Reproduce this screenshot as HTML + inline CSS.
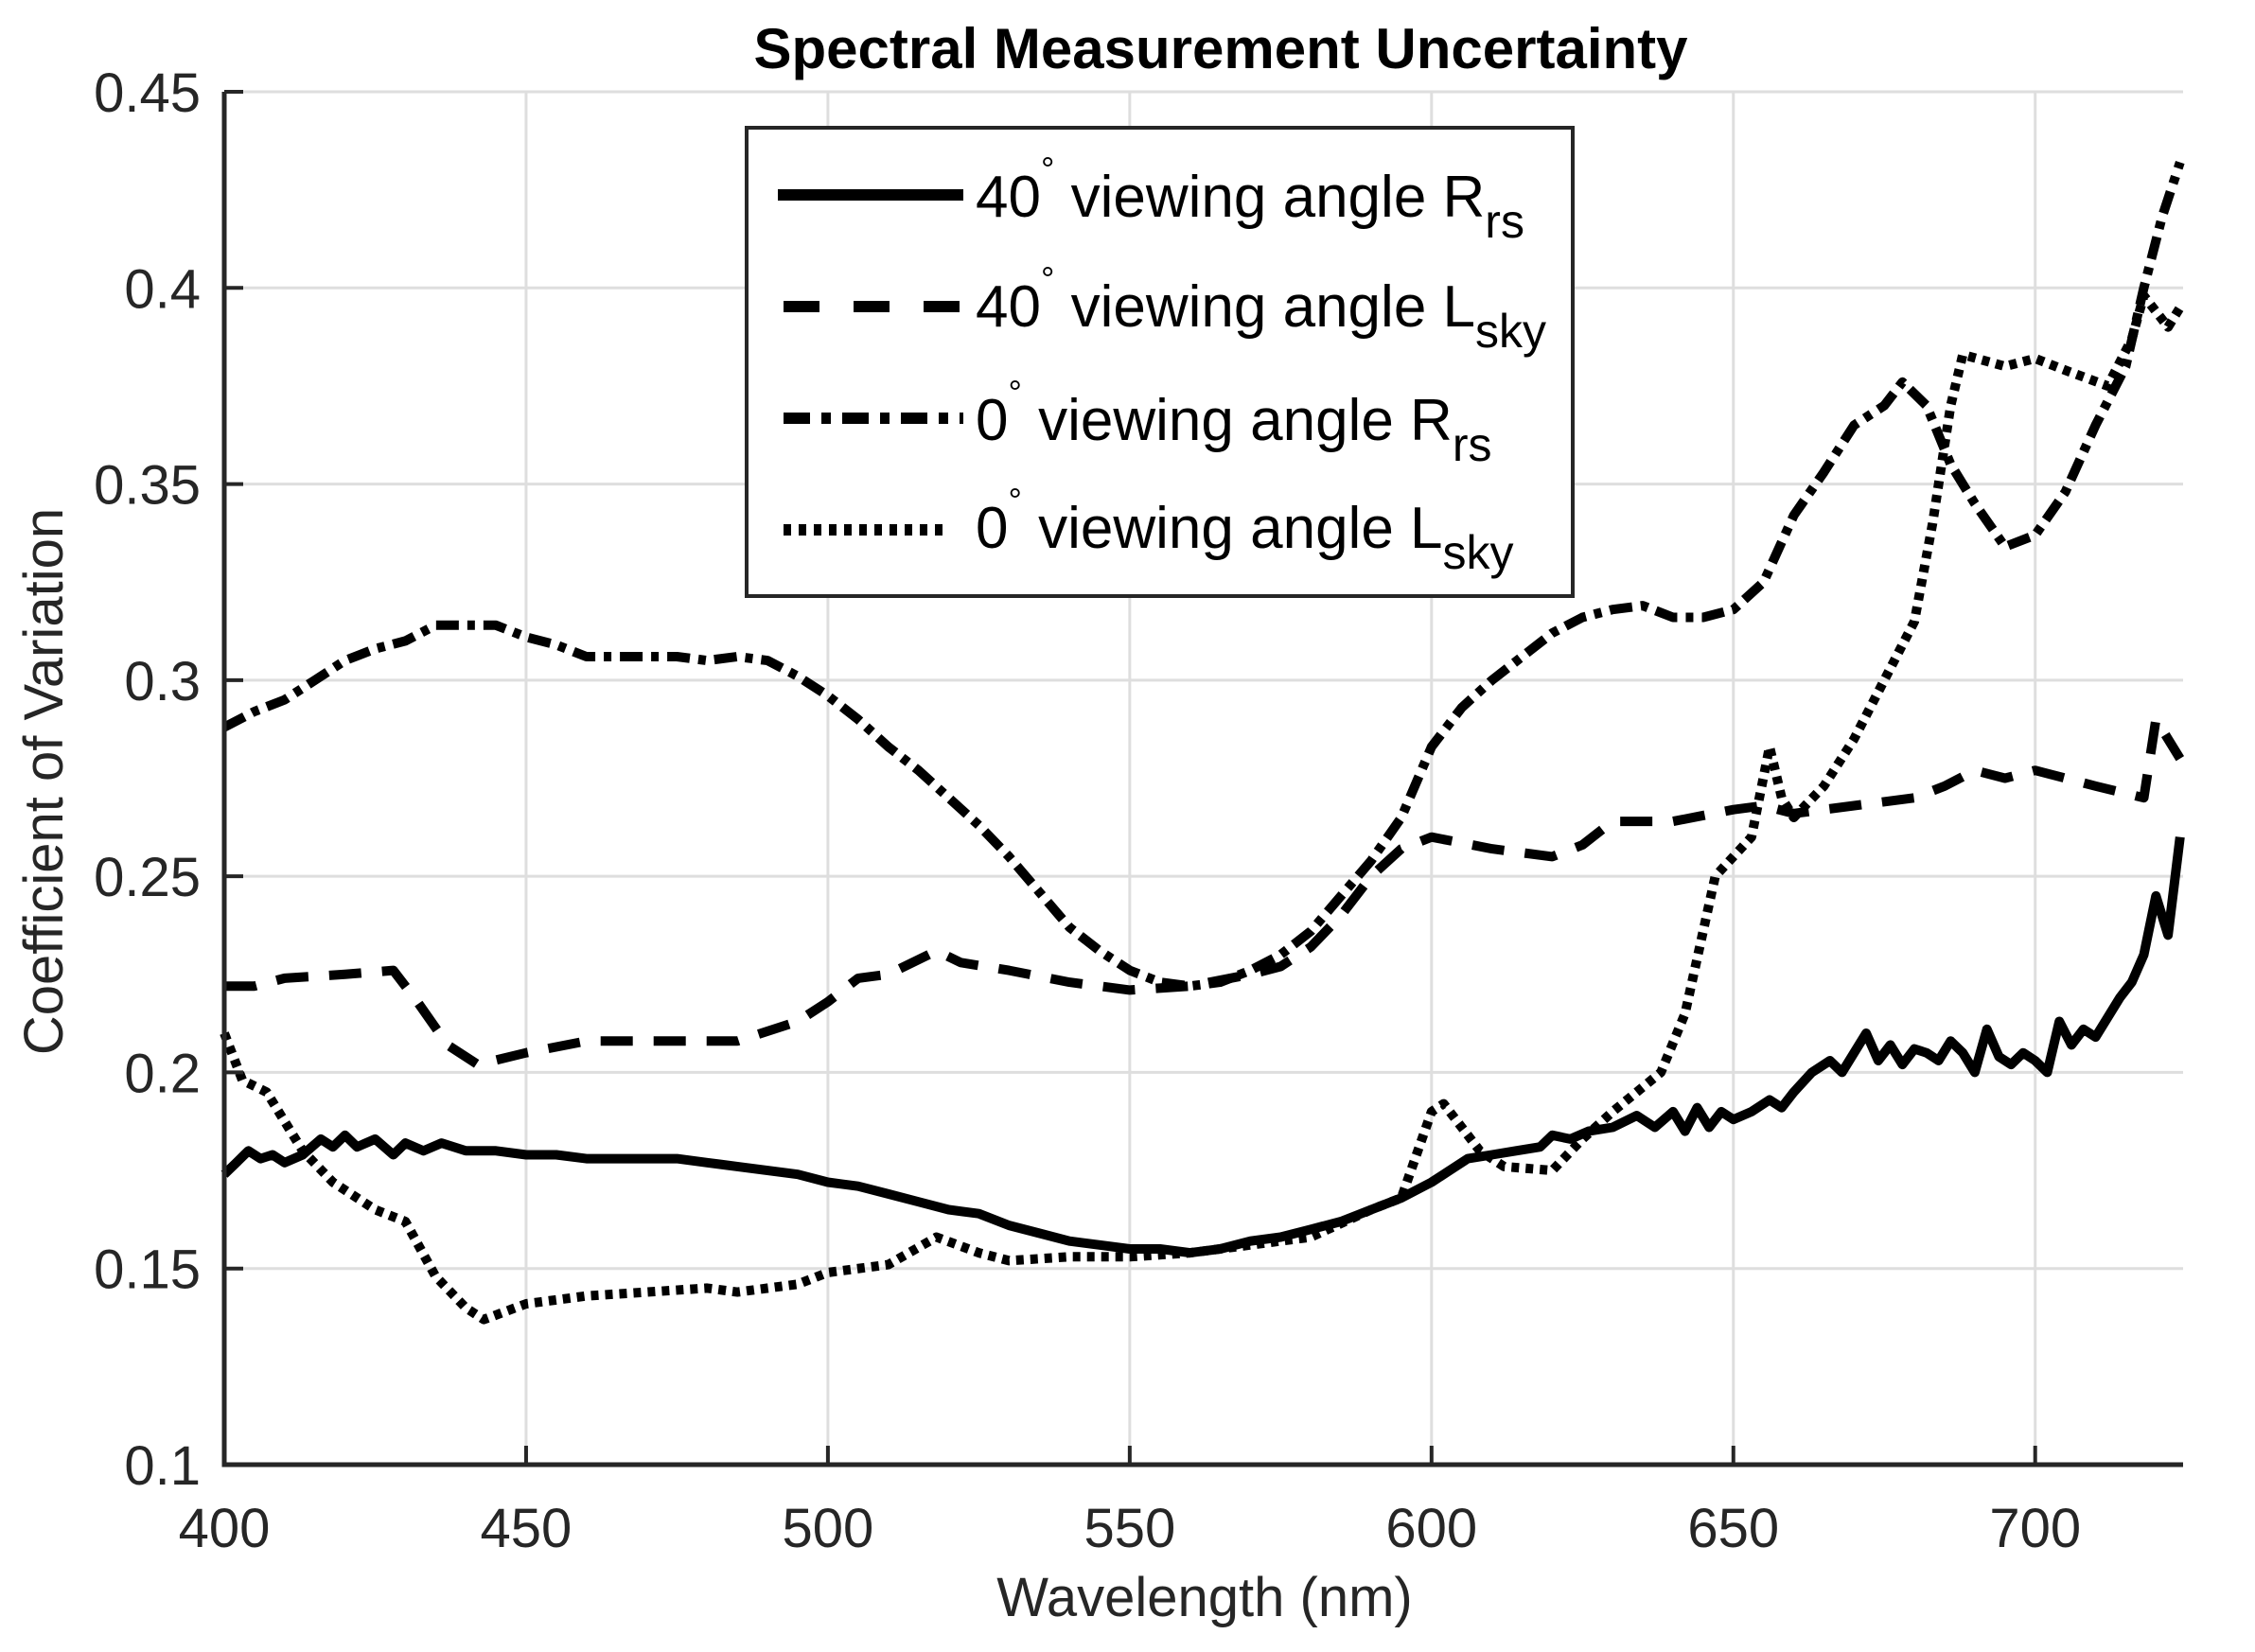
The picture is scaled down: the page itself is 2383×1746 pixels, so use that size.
<!DOCTYPE html>
<html><head><meta charset="utf-8"><style>
html,body{margin:0;padding:0;background:#fff;}
svg{display:block;font-family:"Liberation Sans",Arial,sans-serif;}
</style></head><body>
<svg id="chart" width="2383" height="1746" viewBox="0 0 2383 1746" xmlns="http://www.w3.org/2000/svg">
<rect x="0" y="0" width="2383" height="1746" fill="#fff"/>
<g id="grid"></g>
<g id="series"></g>
<g id="axes"></g>
<text x="1290" y="72" font-size="60" font-weight="bold" text-anchor="middle">Spectral Measurement Uncertainty</text>
<text x="1273" y="1708" font-size="58" text-anchor="middle" fill="#262626">Wavelength (nm)</text>
<text transform="translate(66,826) rotate(-90)" font-size="58" text-anchor="middle" fill="#262626">Coefficient of Variation</text>
<g>
<rect x="789" y="135" width="873" height="495" fill="#fff" stroke="#262626" stroke-width="4"/>
<line x1="822" y1="206" x2="1018" y2="206" stroke="#000" stroke-width="12"/>
<text x="1031" y="229" font-size="62">40<tspan dy="-38" font-size="36">°</tspan><tspan dy="38"> viewing angle R</tspan><tspan dy="22" font-size="50">rs</tspan></text>
<line x1="828" y1="324" x2="1018" y2="324" stroke="#000" stroke-width="12" stroke-dasharray="38,36"/>
<text x="1031" y="345" font-size="62">40<tspan dy="-38" font-size="36">°</tspan><tspan dy="38"> viewing angle L</tspan><tspan dy="22" font-size="50">sky</tspan></text>
<line x1="828" y1="442" x2="1018" y2="442" stroke="#000" stroke-width="12" stroke-dasharray="28,12,10,12"/>
<text x="1031" y="465" font-size="62">0<tspan dy="-38" font-size="36">°</tspan><tspan dy="38"> viewing angle R</tspan><tspan dy="22" font-size="50">rs</tspan></text>
<line x1="828" y1="560" x2="1004" y2="560" stroke="#000" stroke-width="12" stroke-dasharray="8,8"/>
<text x="1031" y="579" font-size="62">0<tspan dy="-38" font-size="36">°</tspan><tspan dy="38"> viewing angle L</tspan><tspan dy="22" font-size="50">sky</tspan></text>
</g>
</svg>
<script>
const xTicks = [400,450,500,550,600,650,700];
const yTicks = [0.1,0.15,0.2,0.25,0.3,0.35,0.4,0.45];
const yTickLabels = ["0.1","0.15","0.2","0.25","0.3","0.35","0.4","0.45"];
const xMin = 400, xMax = 724.5, yMin = 0.1, yMax = 0.45;

const rrs40Wl = [400,402,404,406,408,410,413,416,418,420,422,425,428,430,433,436,440,445,450,455,460,465,470,475,480,485,490,495,500,505,510,515,520,525,530,535,540,545,550,555,560,565,570,575,580,585,590,595,600,603,606,610,614,618,620,623,626,630,634,637,640,642,644,646,648,650,653,656,658,660,663,666,668,670,672,674,676,678,680,682,684,686,688,690,692,694,696,698,700,702,704,706,708,710,712,714,716,718,720,722,724];
const rrs40Val = [0.174,0.177,0.18,0.178,0.179,0.177,0.179,0.183,0.181,0.184,0.181,0.183,0.179,0.182,0.18,0.182,0.18,0.18,0.179,0.179,0.178,0.178,0.178,0.178,0.177,0.176,0.175,0.174,0.172,0.171,0.169,0.167,0.165,0.164,0.161,0.159,0.157,0.156,0.155,0.155,0.154,0.155,0.157,0.158,0.16,0.162,0.165,0.168,0.172,0.175,0.178,0.179,0.18,0.181,0.184,0.183,0.185,0.186,0.189,0.186,0.19,0.185,0.191,0.186,0.19,0.188,0.19,0.193,0.191,0.195,0.2,0.203,0.2,0.205,0.21,0.203,0.207,0.202,0.206,0.205,0.203,0.208,0.205,0.2,0.211,0.204,0.202,0.205,0.203,0.2,0.213,0.207,0.211,0.209,0.214,0.219,0.223,0.23,0.245,0.235,0.26];

const lsky40Wl = [400,405,410,420,428,432,437,442,450,460,470,485,495,500,505,510,518,522,530,540,550,560,570,575,580,585,590,595,600,610,620,625,630,640,650,655,660,670,680,685,690,695,700,710,718,720,724];
const lsky40Val = [0.222,0.222,0.224,0.225,0.226,0.218,0.207,0.202,0.205,0.208,0.208,0.208,0.213,0.218,0.224,0.225,0.231,0.228,0.226,0.223,0.221,0.222,0.225,0.227,0.232,0.24,0.25,0.257,0.26,0.257,0.255,0.258,0.264,0.264,0.267,0.268,0.266,0.268,0.27,0.273,0.277,0.275,0.277,0.273,0.27,0.29,0.28];

const rrs0Wl = [400,405,410,415,420,425,430,435,440,445,450,455,460,465,470,475,480,485,490,495,500,505,510,515,520,525,530,535,540,545,550,555,560,565,570,575,580,585,590,595,600,605,610,615,620,625,630,635,640,645,650,655,660,665,670,675,678,682,686,690,695,700,705,710,715,718,721,724];
const rrs0Val = [0.288,0.292,0.295,0.3,0.305,0.308,0.31,0.314,0.314,0.314,0.311,0.309,0.306,0.306,0.306,0.306,0.305,0.306,0.305,0.301,0.296,0.29,0.283,0.277,0.27,0.263,0.255,0.246,0.237,0.231,0.226,0.223,0.222,0.223,0.226,0.23,0.236,0.245,0.254,0.265,0.283,0.293,0.3,0.306,0.312,0.316,0.318,0.319,0.316,0.316,0.318,0.325,0.342,0.353,0.365,0.37,0.376,0.37,0.355,0.345,0.334,0.337,0.348,0.365,0.38,0.4,0.418,0.432];

const lsky0Wl = [400,403,407,413,418,425,430,435,440,443,450,460,470,480,485,495,500,510,518,525,530,540,550,560,570,580,590,595,600,602,608,612,620,625,630,638,642,647,653,656,658,660,665,670,675,680,683,686,688,695,700,705,712,716,718,722,724];
const lsky0Val = [0.21,0.198,0.195,0.18,0.172,0.165,0.162,0.148,0.14,0.137,0.141,0.143,0.144,0.145,0.144,0.146,0.149,0.151,0.158,0.154,0.152,0.153,0.153,0.154,0.156,0.158,0.165,0.168,0.19,0.192,0.18,0.176,0.175,0.183,0.19,0.2,0.215,0.25,0.26,0.283,0.27,0.265,0.273,0.285,0.3,0.315,0.34,0.37,0.383,0.38,0.382,0.379,0.375,0.387,0.398,0.39,0.395];

const L = 237, R = 2307, T = 97, B = 1548;
function sx(v){ return L + (v - xMin) / (xMax - xMin) * (R - L); }
function sy(v){ return B - (v - yMin) / (yMax - yMin) * (B - T); }
const NS = "http://www.w3.org/2000/svg";
function mk(tag, parent, attrs){
  const e = document.createElementNS(NS, tag);
  for (const k in attrs) e.setAttribute(k, attrs[k]);
  parent.appendChild(e); return e;
}
const grid = document.getElementById('grid');
const axes = document.getElementById('axes');
const series = document.getElementById('series');

xTicks.forEach(function(t){
  if (t > xMin) {
    const g = mk('line', grid, {x1:sx(t), x2:sx(t), y1:T, y2:B, stroke:'#dedede', 'stroke-width':3});
    
    
  }
  const tk = mk('line', axes, {x1:sx(t), x2:sx(t), y1:B, y2:B-20, stroke:'#262626', 'stroke-width':4});
  
  
  const lb = mk('text', axes, {x:sx(t), y:1635, 'font-size':58, 'text-anchor':'middle', fill:'#262626'});
  lb.textContent = String(t);
  
  
});
yTicks.forEach(function(t, i){
  if (t > yMin) {
    const g = mk('line', grid, {x1:L, x2:R, y1:sy(t), y2:sy(t), stroke:'#dedede', 'stroke-width':3});
    
    
  }
  const tk = mk('line', axes, {x1:L, x2:L+20, y1:sy(t), y2:sy(t), stroke:'#262626', 'stroke-width':4});
  
  
  const lb = mk('text', axes, {x:212, y:sy(t)+21, 'font-size':58, 'text-anchor':'end', fill:'#262626'});
  lb.textContent = yTickLabels[i];
  
  
});
const ax = mk('path', axes, {d:'M'+L+' '+T+' L'+L+' '+B+' L'+R+' '+B, fill:'none', stroke:'#262626', 'stroke-width':5});



function drawLine(wl, val, dash, name){
  let d = '';
  wl.forEach(function(w, i){ d += (i ? 'L' : 'M') + sx(w).toFixed(1) + ' ' + sy(val[i]).toFixed(1) + ' '; });
  const p = mk('path', series, {d:d, fill:'none', stroke:'#000', 'stroke-width':10, 'stroke-linejoin':'round'});
  if (dash) p.setAttribute('stroke-dasharray', dash);
  
  
}
drawLine(rrs40Wl, rrs40Val, null, 'line-40-rrs');
drawLine(lsky40Wl, lsky40Val, '34,22', 'line-40-lsky');
drawLine(rrs0Wl, rrs0Val, '24,9,8,9', 'line-0-rrs');
drawLine(lsky0Wl, lsky0Val, '8,7', 'line-0-lsky');
</script>
</body></html>
